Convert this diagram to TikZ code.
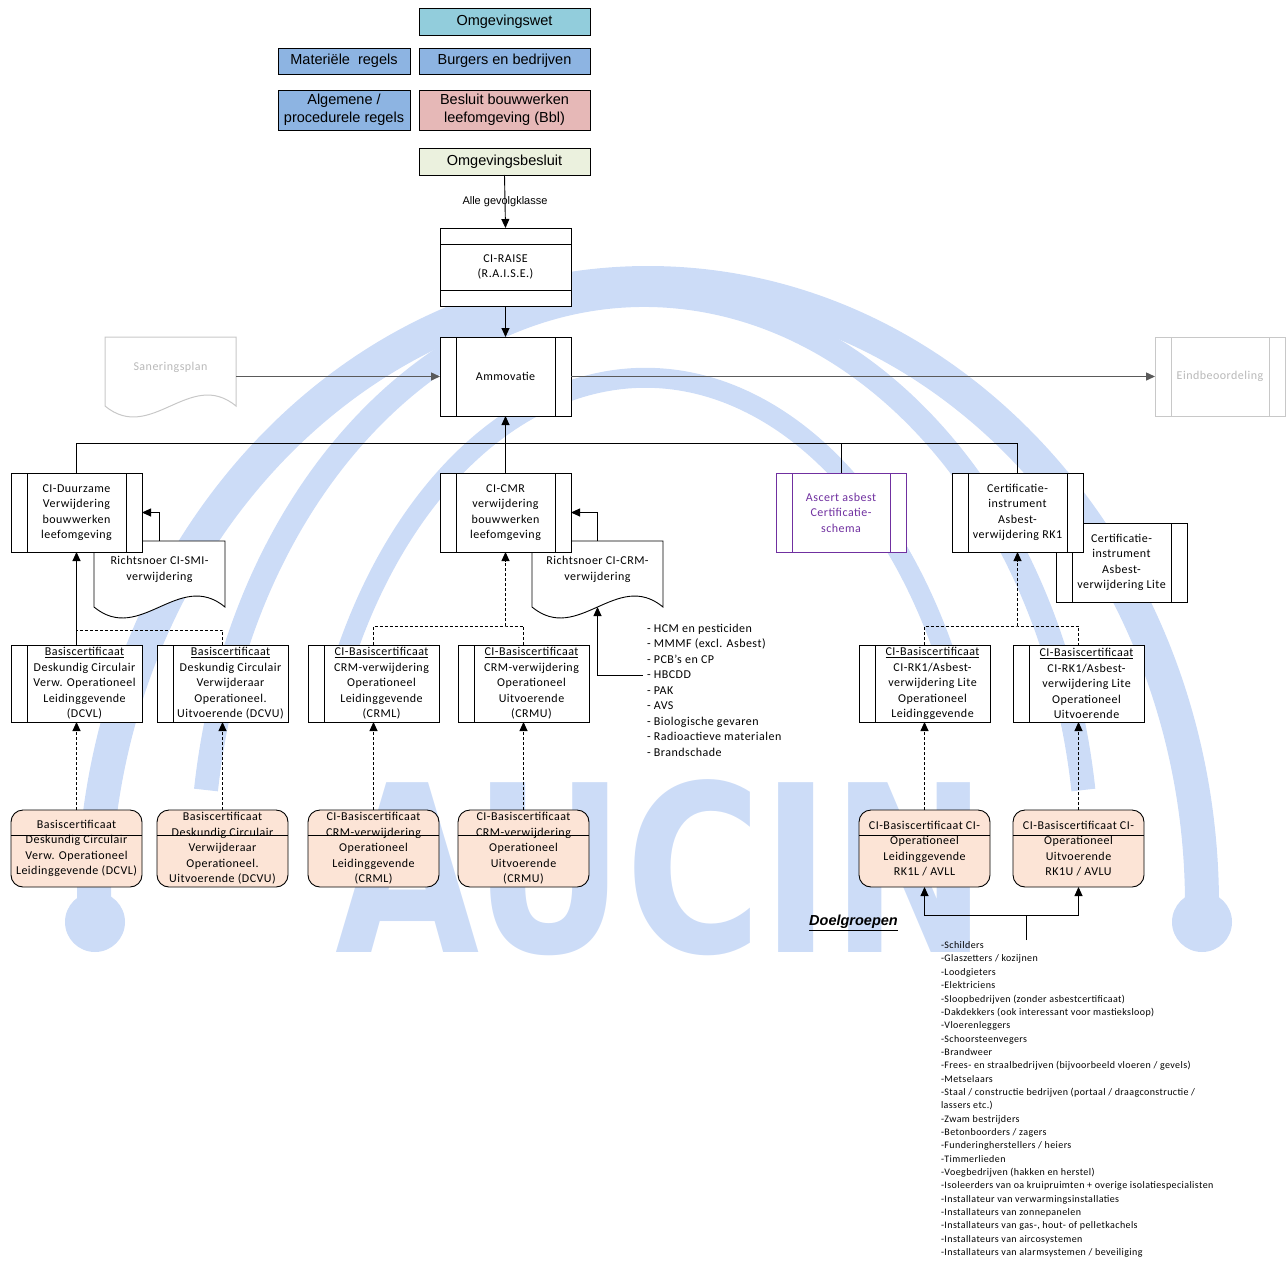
\documentclass[tikz,border=0pt]{standalone}
\usepackage{fontspec}
\setmainfont{Carlito}[LetterSpace=4]
\newfontfamily\arialf{Liberation Sans}
\newfontfamily\logof{DejaVu Sans}
\usetikzlibrary{arrows.meta,calc}
\definecolor{wm}{RGB}{204,220,247}
\definecolor{cyanf}{RGB}{146,205,220}
\definecolor{bluef}{RGB}{141,180,226}
\definecolor{pinkf}{RGB}{230,184,183}
\definecolor{greenf}{RGB}{235,241,222}
\definecolor{peach}{RGB}{252,228,214}
\definecolor{purp}{RGB}{112,48,160}
\definecolor{lgray}{RGB}{200,200,200}
\definecolor{tgray}{RGB}{185,185,185}
\definecolor{dgray}{RGB}{90,90,90}
\begin{document}
\begin{tikzpicture}[x=1pt,y=-1pt,
  every node/.style={inner sep=0pt,outer sep=0pt},
  lw/.style={line width=0.9pt},
  arr/.style={lw,-{Triangle[length=9pt,width=8pt]}},
  dsh/.style={dash pattern=on 3pt off 2pt},
  topbox/.style={draw,line width=1pt,font=\arialf\fontsize{14.5}{17}\selectfont,align=center,minimum width=171pt,minimum height=27pt},
  txt/.style={font=\fontsize{12}{15.5}\selectfont,align=center},
  smalltxt/.style={font=\fontsize{10}{13.35}\selectfont,align=left},
  twostripe/.style={draw,fill=white,lw,minimum width=131pt,minimum height=79pt,txt,
    path picture={
      \draw[lw] ([xshift=16pt]path picture bounding box.north west) -- ([xshift=16pt]path picture bounding box.south west);
      \draw[lw] ([xshift=-16pt]path picture bounding box.north east) -- ([xshift=-16pt]path picture bounding box.south east);}},
  onestripe/.style={draw,fill=white,lw,minimum width=131pt,minimum height=77pt,
    path picture={
      \draw[lw] ([xshift=16pt]path picture bounding box.north west) -- ([xshift=16pt]path picture bounding box.south west);}},
  bandbox/.style={draw,fill=white,lw,minimum width=131pt,minimum height=78pt,txt,
    path picture={
      \draw[lw] ([yshift=-16pt]path picture bounding box.north west) -- ([yshift=-16pt]path picture bounding box.north east);
      \draw[lw] ([yshift=16pt]path picture bounding box.south west) -- ([yshift=16pt]path picture bounding box.south east);}},
  roundbox/.style={draw,fill=peach,lw,rounded corners=12pt,minimum width=131pt,minimum height=77pt,txt,
    path picture={
      \draw[lw] ([yshift=-25pt]path picture bounding box.north west) -- ([yshift=-25pt]path picture bounding box.north east);}},
  docbox/.style={minimum width=131pt,minimum height=74pt}
]
\useasboundingbox (0,0) rectangle (1288,1261);
% ---------- watermark ----------
\draw[wm,line width=34pt] (94,905) arc[start angle=180,end angle=0,x radius=554pt,y radius=622pt];
\fill[wm] (95,922) circle[radius=30pt];
\fill[wm] (1202,922) circle[radius=30pt];
\draw[wm,line width=24pt] (206,790) arc[start angle=172,end angle=8,x radius=443pt,y radius=575pt];
\draw[wm,line width=20pt] (332,700) arc[start angle=158,end angle=22,x radius=338pt,y radius=515pt];
\node[anchor=base west,text=wm,xscale=0.8,font=\logof\bfseries\fontsize{233}{233}\selectfont] (logo) at (335,952) {AUCIN};
% ---------- top boxes ----------
\node[topbox,fill=cyanf] (omgwet) at (504.5,21.5) {Omgevingswet};
\node[topbox,fill=bluef,minimum width=132pt,minimum height=26pt] (materiele) at (344,61) {Materiële~ regels};
\node[topbox,fill=bluef,minimum height=26pt] (burgers) at (504.5,61) {Burgers en bedrijven};
\node[topbox,fill=bluef,minimum width=132pt,minimum height=40pt,font=\arialf\fontsize{14.5}{18}\selectfont] (algemene) at (344,110) {Algemene /\\procedurele regels};
\node[topbox,fill=pinkf,minimum height=40pt,font=\arialf\fontsize{14.5}{18}\selectfont] (besluit) at (504.5,110) {Besluit bouwwerken\\leefomgeving (Bbl)};
\node[topbox,fill=greenf] (omgbesluit) at (504.5,161.5) {Omgevingsbesluit};
% ---------- RAISE / Ammovatie ----------
\node[bandbox] (raise) at (505.5,267) {CI-RAISE\\(R.A.I.S.E.)};
\draw[arr] (omgbesluit.south) -- node[font=\arialf\fontsize{11}{13}\selectfont] (gevolg) {Alle gevolgklasse} (raise.north);
\node[twostripe] (ammo) at (505.5,376.5) {Ammovatie};
\draw[arr] (raise.south) -- (ammo.north);
% Saneringsplan (document)
\draw[lgray,fill=white,line width=1pt] (105,337) -- (236,337) -- (236,406) .. controls (190,368) and (151,444) .. (105,406) -- cycle;
\node[docbox,minimum height=79pt] (saner) at (170.5,376.5) {};
\node[txt,text=tgray] (sanertxt) at (170.5,367) {Saneringsplan};
\draw[dgray,line width=1.4pt,-{Triangle[length=9pt,width=8pt]}] (saner.east) -- (ammo.west);
% Eindbeoordeling
\node[twostripe,draw=lgray,text=tgray,line width=1pt,minimum width=130pt,
  path picture={
      \draw[lgray,line width=1pt] ([xshift=16pt]path picture bounding box.north west) -- ([xshift=16pt]path picture bounding box.south west);
      \draw[lgray,line width=1pt] ([xshift=-16pt]path picture bounding box.north east) -- ([xshift=-16pt]path picture bounding box.south east);}] (eind) at (1220,376.5) {Eindbeoordeling};
\draw[dgray,line width=1.4pt,-{Triangle[length=9pt,width=8pt]}] (ammo.east) -- (eind.west);
% ---------- row 2 ----------
\draw[lw,fill=white] (94,541) -- (225,541) -- (225,607) .. controls (179,569) and (140,645) .. (94,607) -- cycle;
\node[docbox] (smi) at (159.5,578) {};
\node[txt] (smitxt) at (159.5,569.5) {Richtsnoer CI-SMI-\\verwijdering};
\node[twostripe] (duurz) at (76.5,512.5) {CI-Duurzame\\Verwijdering\\bouwwerken\\leefomgeving};
\draw[lw,fill=white] (532,541) -- (663,541) -- (663,607) .. controls (617,569) and (578,645) .. (532,607) -- cycle;
\node[docbox] (crmdoc) at (597.5,578) {};
\node[txt] (crmtxt) at (597.5,569.5) {Richtsnoer CI-CRM-\\verwijdering};
\coordinate (crmbot) at (597.5,607);
\node[twostripe] (cmr) at (505.5,512.5) {CI-CMR\\verwijdering\\bouwwerken\\leefomgeving};
\node[twostripe,draw=purp,text=purp,minimum width=130pt,
  path picture={
      \draw[purp,lw] ([xshift=16pt]path picture bounding box.north west) -- ([xshift=16pt]path picture bounding box.south west);
      \draw[purp,lw] ([xshift=-16pt]path picture bounding box.north east) -- ([xshift=-16pt]path picture bounding box.south east);}] (ascert) at (841,512.5) {Ascert asbest\\Certificatie-\\schema};
\node[twostripe] (lite) at (1121.5,562.5) {Certificatie-\\instrument\\Asbest-\\verwijdering Lite};
\node[twostripe] (rk1) at (1017.5,512.5) {Certificatie-\\instrument\\Asbest-\\verwijdering RK1};
% bus
\coordinate (busL) at (duurz.north |- 0,443);
\coordinate (busR) at (rk1.north |- 0,443);
\draw[lw] (duurz.north) -- (busL) -- (busR) -- (rk1.north);
\draw[lw] (ascert.north) -- (ascert.north |- busL);
\draw[arr] (cmr.north) -- (ammo.south);
% document arrows
\draw[arr] (smi.north) |- (duurz.east);
\draw[arr] (crmdoc.north) |- (cmr.east);
% ---------- row 3 ----------
\newcommand\lstripebox[4]{%
  \node[onestripe] (#1) at (#2,#3) {};
  \node[txt] (#1t) at ([xshift=8pt]#1.center) {#4};}
\lstripebox{dcvl}{76.5}{683.5}{\underline{Basiscertificaat}\\Deskundig Circulair\\Verw. Operationeel\\Leidinggevende\\(DCVL)}
\lstripebox{dcvu}{222.5}{683.5}{\underline{Basiscertificaat}\\Deskundig Circulair\\Verwijderaar\\Operationeel.\\Uitvoerende (DCVU)}
\lstripebox{crml}{373.5}{683.5}{\underline{CI-Basiscertificaat}\\CRM-verwijdering\\Operationeel\\Leidinggevende\\(CRML)}
\lstripebox{crmu}{523.5}{683.5}{\underline{CI-Basiscertificaat}\\CRM-verwijdering\\Operationeel\\Uitvoerende\\(CRMU)}
\lstripebox{rkl}{924.5}{683.5}{\underline{CI-Basiscertificaat}\\CI-RK1/Asbest-\\verwijdering Lite\\Operationeel\\Leidinggevende}
\lstripebox{rku}{1078.5}{683.5}{\underline{CI-Basiscertificaat}\\CI-RK1/Asbest-\\verwijdering Lite\\Operationeel\\Uitvoerende}
% row 3 connectors
\draw[arr] (dcvl.north) -- (duurz.south);
\draw[lw,dsh] (dcvu.north) -- ++(0,-15) -| ($(dcvl.north)+(0,-15)$);
\coordinate (cj) at (cmr.south |- 0,626);
\draw[lw,dsh] (crml.north) |- (cj) -| (crmu.north);
\draw[arr,dsh] (cj) -- (cmr.south);
\coordinate (rj) at (rk1.south |- 0,626);
\draw[lw,dsh] (rkl.north) |- (rj) -| (rku.north);
\draw[arr,dsh] (rj) -- (rk1.south);
% hazard list
\node[txt,align=left,anchor=west] (haz) at (647,690) {- HCM en pesticiden\\- MMMF (excl. Asbest)\\- PCB's en CP\\- HBCDD\\- PAK\\- AVS\\- Biologische gevaren\\- Radioactieve materialen\\- Brandschade};
\coordinate (hazj) at (643,675);
\draw[arr] (hazj) -| (crmbot);
% ---------- row 4 ----------
\node[roundbox] (b1) at (76.5,848.5) {Basiscertificaat\\Deskundig Circulair\\Verw. Operationeel\\Leidinggevende (DCVL)};
\node[roundbox] (b2) at (222.5,848.5) {Basiscertificaat\\Deskundig Circulair\\Verwijderaar\\Operationeel.\\Uitvoerende (DCVU)};
\node[roundbox] (b3) at (373.5,848.5) {CI-Basiscertificaat\\CRM-verwijdering\\Operationeel\\Leidinggevende\\(CRML)};
\node[roundbox] (b4) at (523.5,848.5) {CI-Basiscertificaat\\CRM-verwijdering\\Operationeel\\Uitvoerende\\(CRMU)};
\node[roundbox] (b5) at (924.5,848.5) {CI-Basiscertificaat CI-\\Operationeel\\Leidinggevende\\RK1L / AVLL};
\node[roundbox] (b6) at (1078.5,848.5) {CI-Basiscertificaat CI-\\Operationeel\\Uitvoerende\\RK1U / AVLU};
\draw[arr,dsh] (b1.north) -- (dcvl.south);
\draw[arr,dsh] (b2.north) -- (dcvu.south);
\draw[arr,dsh] (b3.north) -- (crml.south);
\draw[arr,dsh] (b4.north) -- (crmu.south);
\draw[arr,dsh] (b5.north) -- (rkl.south);
\draw[arr,dsh] (b6.north) -- (rku.south);
% ---------- Doelgroepen ----------
\node[font=\arialf\bfseries\itshape\fontsize{14.5}{17}\selectfont] (dglabel) at (853.5,923) {\underline{Doelgroepen}};
\coordinate (dgs) at (1026,940);
\coordinate (dgj) at (1026,915);
\draw[lw] (dgs) -- (dgj);
\draw[arr] (dgj) -| (b5.south);
\draw[arr] (dgj) -| (b6.south);
\node[smalltxt,anchor=west] (dglist) at (941,1099.5) {-Schilders\\-Glaszetters / kozijnen\\-Loodgieters\\-Elektriciens\\-Sloopbedrijven (zonder asbestcertificaat)\\-Dakdekkers (ook interessant voor mastieksloop)\\-Vloerenleggers\\-Schoorsteenvegers\\-Brandweer\\-Frees- en straalbedrijven (bijvoorbeeld vloeren / gevels)\\-Metselaars\\-Staal / constructie bedrijven (portaal / draagconstructie /\\lassers etc.)\\-Zwam bestrijders\\-Betonboorders / zagers\\-Funderingherstellers / heiers\\-Timmerlieden\\-Voegbedrijven (hakken en herstel)\\-Isoleerders van oa kruipruimten + overige isolatiespecialisten\\-Installateur van verwarmingsinstallaties\\-Installateurs van zonnepanelen\\-Installateurs van gas-, hout- of pelletkachels\\-Installateurs van aircosystemen\\-Installateurs van alarmsystemen / beveiliging};
\end{tikzpicture}
\end{document}
